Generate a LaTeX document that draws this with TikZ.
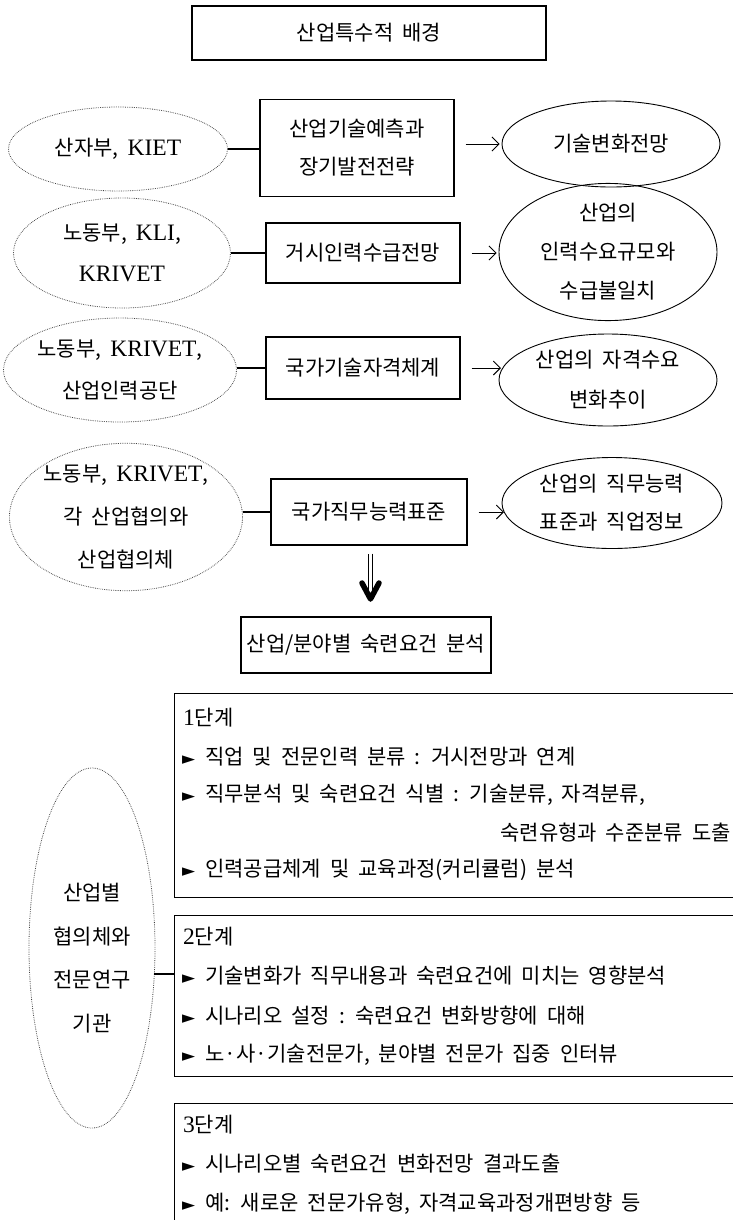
\documentclass[tikz,border=0pt]{standalone}
\usepackage{fontspec}
\setmainfont[WordSpace=1.9]{Noto Sans CJK KR}
\newfontfamily\latf[Scale=1.12]{Liberation Serif}
\newfontfamily\symf{DejaVu Sans}
\usetikzlibrary{shapes.geometric,arrows.meta,calc}
\newcommand\lt[1]{{\latf #1}}
\newcommand\bul{{\fontsize{17bp}{17bp}\symf ►}\hspace{10bp}}
\tikzset{
  txt/.style={font=\fontsize{21bp}{#1bp}\selectfont, inner sep=0pt, align=center},
  txt/.default=42,
  box/.style={draw, line width=1.2bp, rectangle, txt},
  dotell/.style={ellipse, draw=black!75, line width=0.8bp, dash pattern=on 0.7bp off 1.1bp, inner sep=0pt, txt=#1},
  dotell/.default=42,
  solell/.style={ellipse, draw, line width=0.9bp, inner sep=0pt, txt=#1},
  solell/.default=42,
  conn/.style={line width=1.1bp},
  arr/.style={line width=0.9bp, -{Straight Barb[length=7bp,width=14bp]}},
  stagebox/.style={draw, line width=1.2bp, rectangle, anchor=north west, minimum width=600bp, inner sep=0pt},
  ln/.style={font=\fontsize{21bp}{24bp}\selectfont, inner sep=0pt, anchor=west},
}
\begin{document}
\begin{tikzpicture}[x=1bp,y=-1bp]
\useasboundingbox (0,0) rectangle (733,1220);

% title
\node[box, minimum width=354bp, minimum height=54bp] (T) at (369,33) {산업특수적 배경};

% row 1
\node[dotell, minimum width=219bp, minimum height=84bp] (L1) at (118,149) {산자부, \lt{KIET}};
\node[box, txt=38, minimum width=194bp, minimum height=97bp] (B1) at (357,148) {산업기술예측과\\장기발전전략};
\node[solell, minimum width=218bp, minimum height=86bp] (R1) at (611,144) {기술변화전망};
\draw[conn] (L1.east) -- (B1.west |- L1.east);
\draw[arr] ($(B1.east)+(11,-4)$) -- ($(R1.west)+(-2,0)$);

% row 2
\node[dotell=41, minimum width=217bp, minimum height=110bp] (L2) at (122,253) {노동부, \lt{KLI},\\\lt{KRIVET}};
\node[box, minimum width=194bp, minimum height=60bp] (B2) at (363,253) {거시인력수급전망};
\node[solell=39, minimum width=218bp, minimum height=115bp] (R2) at (608,252) {산업의\\인력수요규모와\\수급불일치};
\draw[conn] (L2.east) -- (B2.west);
\draw[arr] ($(B2.east)+(11,0)$) -- ($(R2.west)+(-2,1)$);

% row 3
\node[dotell=42, minimum width=218bp, minimum height=104bp] (L3) at (120,370) {노동부, \lt{KRIVET},\\산업인력공단};
\node[box, minimum width=194bp, minimum height=62bp] (B3) at (363,368) {국가기술자격체계};
\node[solell=40, minimum width=218bp, minimum height=92bp] (R3) at (608,380) {산업의 자격수요\\변화추이};
\draw[conn] (B3.west -| L3.east) -- (B3.west);
\draw[arr] ($(B3.east)+(11,0)$) -- ($(R3.center)+(-107,-12)$);

% row 4
\node[dotell=43, minimum width=216bp, minimum height=132bp] (L4) at (126,517) {노동부, \lt{KRIVET},\\각 산업협의와\\산업협의체};
\node[box, minimum width=196bp, minimum height=66bp] (B4) at (369,512) {국가직무능력표준};
\node[solell=38, minimum width=220bp, minimum height=91bp] (R4) at (612,503) {산업의 직무능력\\표준과 직업정보};
\draw[conn] (B4.west -| L4.east) -- (B4.west);
\draw[arr] ($(B4.east)+(11,0)$) -- ($(R4.center)+(-108,9)$);

% result
\node[box, minimum width=250bp, minimum height=56bp] (RB) at (366,645) {산업/분야별 숙련요건 분석};
\coordinate (d1) at ($(B4.south)+(1.5,8)$);
\coordinate (d2) at (d1 |- 0,594);
\draw[double, double distance=3.6bp, line width=0.9bp] (d1) -- (d2);
\draw[line width=5.5bp, line cap=round, line join=round] ($(d2)+(-8.5,-11)$) -- ($(d2)+(0,5)$) -- ($(d2)+(8.5,-11)$);

% stage boxes
\node[stagebox, minimum height=204bp] (S1) at (174,693) {};
\node[stagebox, minimum height=161bp] (S2) at (174,915) {};
\node[stagebox, minimum height=200bp] (S3) at (174,1103) {};

\node[ln] (s1t) at (183,718) {\lt{1}단계};
\node[ln] (s1a) at (182,757) {\bul 직업 및 전문인력 분류 : 거시전망과 연계};
\node[ln] (s1b) at (182,795) {\bul 직무분석 및 숙련요건 식별 : 기술분류, 자격분류,};
\node[ln, anchor=east] (s1c) at (731,833) {숙련유형과 수준분류 도출};
\node[ln] (s1d) at (182,870) {\bul 인력공급체계 및 교육과정(커리큘럼) 분석};

\node[ln] (s2t) at (183,937) {\lt{2}단계};
\node[ln] (s2a) at (182,976) {\bul 기술변화가 직무내용과 숙련요건에 미치는 영향분석};
\node[ln] (s2b) at (182,1016) {\bul 시나리오 설정 : 숙련요건 변화방향에 대해};
\node[ln] (s2c) at (182,1055) {\bul 노·사·기술전문가, 분야별 전문가 집중 인터뷰};

\node[ln] (s3t) at (183,1125) {\lt{3}단계};
\node[ln] (s3a) at (182,1164) {\bul 시나리오별 숙련요건 변화전망 결과도출};
\node[ln] (s3b) at (182,1204) {\bul 예: 새로운 전문가유형, 자격교육과정개편방향 등};

% big ellipse
\node[dotell, minimum width=126bp, minimum height=360bp] (E) at (92,948) {};
\node[txt=43.5] (Et) at (92,958) {산업별\\협의체와\\전문연구\\기관};
\draw[line width=2.8bp] ($(E.center)+(62,26)$) -- (S2.west |- 0,974);
\end{tikzpicture}
\end{document}
